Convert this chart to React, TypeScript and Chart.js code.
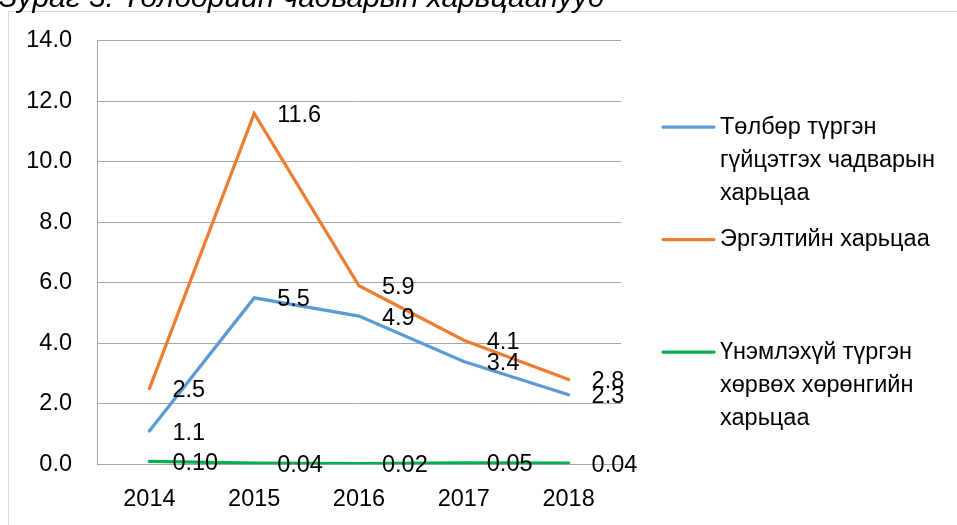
import React, { useEffect, useRef } from "react";
import { Chart, registerables } from "chart.js";

Chart.register(...registerables);

// ---- data ----
const titleText = "Зураг 3. Төлбөрийн чадварын харьцаанууд";
const years = ["2014", "2015", "2016", "2017", "2018"];
const quickRatio = [1.1, 5.5, 4.9, 3.4, 2.3];
const currentRatio = [2.5, 11.6, 5.9, 4.1, 2.8];
const cashRatio = [0.1, 0.04, 0.02, 0.05, 0.04];
const seriesNames = [
  "Төлбөр түргэн гүйцэтгэх чадварын харьцаа",
  "Эргэлтийн харьцаа",
  "Үнэмлэхүй түргэн хөрвөх хөрөнгийн харьцаа",
];
const legendLines = [
  ["Төлбөр түргэн", "гүйцэтгэх чадварын", "харьцаа"],
  ["Эргэлтийн харьцаа"],
  ["Үнэмлэхүй түргэн", "хөрвөх хөрөнгийн", "харьцаа"],
];
const labelDecimals = [1, 1, 2];
const yMin = 0;
const yMax = 14;
const yStep = 2;

const FONT = "'Liberation Sans', Arial, sans-serif";
const FONT_SIZE = 23.5;
const COLORS = ["#5B9BD5", "#ED7D31", "#00B050"];
const GRID = "#A6A6A6";

const dataLabelPlugin = {
  id: "dataLabelsRight",
  afterDatasetsDraw(chart: any) {
    const ctx = chart.ctx;
    ctx.save();
    ctx.font = `${FONT_SIZE}px ${FONT}`;
    ctx.fillStyle = "#000";
    ctx.textAlign = "left";
    ctx.textBaseline = "middle";
    chart.data.datasets.forEach((ds: any, i: number) => {
      const meta = chart.getDatasetMeta(i);
      meta.data.forEach((pt: any, j: number) => {
        const v = ds.data[j] as number;
        ctx.fillText(v.toFixed(labelDecimals[i]), pt.x + 23, pt.y + 2);
      });
    });
    ctx.restore();
  },
};

const legendPlugin = {
  id: "sideLegend",
  afterDraw(chart: any) {
    const ctx = chart.ctx;
    const o = chart.options.plugins.sideLegend;
    ctx.save();
    ctx.font = `${FONT_SIZE}px ${FONT}`;
    ctx.textAlign = "left";
    ctx.textBaseline = "middle";
    chart.data.datasets.forEach((ds: any, i: number) => {
      const y0 = o.firstY + i * o.entryGap;
      ctx.strokeStyle = ds.borderColor;
      ctx.lineWidth = 3.25;
      ctx.lineCap = "round";
      ctx.beginPath();
      ctx.moveTo(o.lineX1, y0);
      ctx.lineTo(o.lineX2, y0);
      ctx.stroke();
      ctx.fillStyle = "#000";
      legendLines[i].forEach((line, k) => {
        ctx.fillText(line, o.textX, y0 + 0.5 + k * o.lineGap);
      });
    });
    ctx.restore();
  },
};

export default function App() {
  const ref = useRef<HTMLCanvasElement | null>(null);

  useEffect(() => {
    if (!ref.current) return;
    const chart = new Chart(ref.current, {
      type: "line",
      data: {
        labels: years,
        datasets: [quickRatio, currentRatio, cashRatio].map((d, i) => ({
          label: seriesNames[i],
          data: d,
          borderColor: COLORS[i],
          backgroundColor: COLORS[i],
          borderWidth: 3.25,
          borderCapStyle: "round",
          pointRadius: 0,
          pointHoverRadius: 0,
          tension: 0,
          fill: false,
        })),
      },
      options: {
        animation: false,
        responsive: false,
        devicePixelRatio: 1,
        events: [],
        layout: { padding: { left: 0, top: 40.7, right: 336, bottom: 10.7 } },
        scales: {
          x: {
            offset: true,
            grid: { display: false, drawTicks: false },
            border: { display: true, color: GRID, width: 1 },
            ticks: {
              color: "#000",
              padding: 21,
              font: { family: FONT, size: FONT_SIZE },
              maxRotation: 0,
            },
            afterFit(scale: any) {
              scale.height = 50;
            },
          },
          y: {
            min: yMin,
            max: yMax,
            grid: { color: GRID, lineWidth: 1, drawTicks: false },
            border: { display: true, color: GRID, width: 1 },
            ticks: {
              stepSize: yStep,
              color: "#000",
              padding: 25,
              font: { family: FONT, size: FONT_SIZE },
              callback: (v: any) => Number(v).toFixed(1),
            },
            afterFit(scale: any) {
              scale.width = 97;
            },
          },
        },
        plugins: {
          legend: { display: false },
          tooltip: { enabled: false },
          title: { display: false },
          sideLegend: {
            lineX1: 663,
            lineX2: 714,
            textX: 720,
            firstY: 127,
            entryGap: 112.5,
            lineGap: 33,
          },
        } as any,
      },
      plugins: [dataLabelPlugin, legendPlugin],
    } as any);
    return () => chart.destroy();
  }, []);

  return (
    <div style={{ position: "relative", width: 957, height: 525, overflow: "hidden" }}>
      <style>{`body{margin:0;overflow:hidden;background:#fff}`}</style>
      <div
        style={{
          position: "absolute",
          left: 8,
          top: 11,
          width: 949,
          height: 514,
          borderLeft: "1px solid #D9D9D9",
          borderTop: "1px solid #D9D9D9",
          boxSizing: "border-box",
        }}
      />
      <canvas
        ref={ref}
        width={957}
        height={525}
        style={{ position: "absolute", left: 0, top: 0, width: 957, height: 525 }}
      />
      <div
        style={{
          position: "absolute",
          left: -1,
          top: -18.5,
          fontFamily: FONT,
          fontStyle: "italic",
          fontSize: 30,
          lineHeight: "30px",
          whiteSpace: "nowrap",
          color: "#000",
        }}
      >
        {titleText}
      </div>
    </div>
  );
}
